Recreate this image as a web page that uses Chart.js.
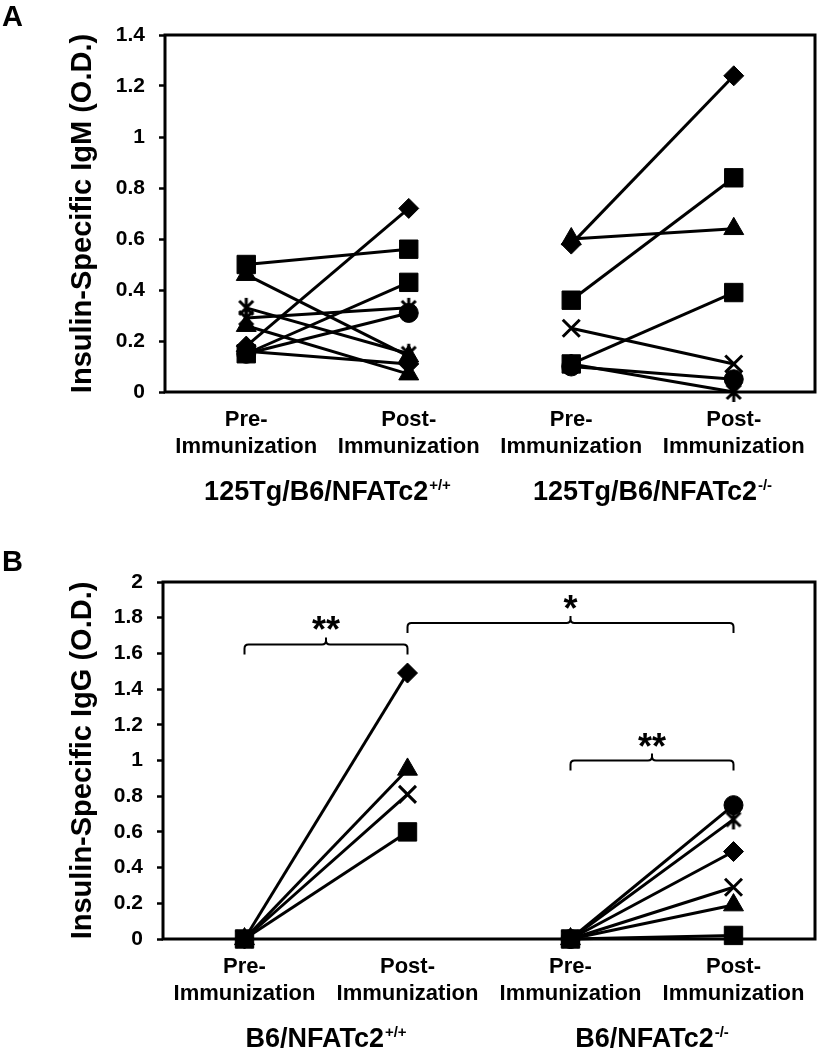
<!DOCTYPE html>
<html><head><meta charset="utf-8">
<script src="https://cdn.jsdelivr.net/npm/chart.js@4/dist/chart.umd.min.js"></script>
<style>
html,body{margin:0;padding:0;background:#fff;}
#wrap{position:relative;width:830px;height:1050px;overflow:hidden;}
canvas{position:absolute;left:0;}
#cA{top:0}
#cB{top:525px}
.panel{position:absolute;left:2px;font:bold 29px 'Liberation Sans',Arial,sans-serif;line-height:29px;color:#000}
</style></head><body>
<div id="wrap">
<canvas id="cA" width="830" height="525"></canvas>
<canvas id="cB" width="830" height="525"></canvas>
<div class="panel" style="top:2px">A</div>
<div class="panel" style="top:547px">B</div>
</div>
<script>
// ---------- data ----------
const categories = [["Pre-","Immunization"],["Post-","Immunization"],["Pre-","Immunization"],["Post-","Immunization"]];

// Panel A : insulin-specific IgM
const igmWtMarkers = ["square","triangle","star","star","triangle","diamond","square","circle","diamond"];
const igmWtPre     = [0.50, 0.46, 0.33, 0.29, 0.26, 0.18, 0.15, 0.15, 0.16];
const igmWtPost    = [0.56, 0.14, 0.15, 0.33, 0.07, 0.72, 0.43, 0.31, 0.11];
const igmKoMarkers = ["diamond","triangle","square","cross","square","circle","star"];
const igmKoPre     = [0.58, 0.60, 0.36, 0.25, 0.11, 0.10, 0.11];
const igmKoPost    = [1.24, 0.64, 0.84, 0.11, 0.39, 0.05, 0.00];

// Panel B : insulin-specific IgG
const iggWtMarkers = ["square","diamond","triangle","cross"];
const iggWtPre     = [0, 0, 0, 0];
const iggWtPost    = [0.60, 1.49, 0.95, 0.81];
const iggKoMarkers = ["square","circle","star","diamond","cross","triangle"];
const iggKoPre     = [0, 0, 0, 0, 0, 0];
const iggKoPost    = [0.02, 0.75, 0.67, 0.49, 0.29, 0.19];

const groupNamesA = ["125Tg/B6/NFATc2","125Tg/B6/NFATc2"];
const groupSupA   = ["+/+","-/-"];
const groupNamesB = ["B6/NFATc2","B6/NFATc2"];
const groupSupB   = ["+/+","-/-"];

const yTitleA = "Insulin-Specific IgM (O.D.)";
const yTitleB = "Insulin-Specific IgG (O.D.)";
const yMaxA = 1.4, yMaxB = 2, yStep = 0.2;

// significance brackets (panel B)
const bracketFrom  = [0, 1, 2];
const bracketTo    = [1, 3, 3];
const bracketLevel = [1.65, 1.77, 1.0];
const bracketText  = ["**", "*", "**"];

// ---------- styling ----------
const FONT = "'Liberation Sans', Arial, Helvetica, sans-serif";

function makeStar() {
  const c = document.createElement('canvas');
  c.width = 22; c.height = 22;
  const g = c.getContext('2d');
  g.strokeStyle = '#000'; g.lineWidth = 3; g.lineCap = 'butt';
  g.beginPath();
  g.moveTo(4,4); g.lineTo(18,18);
  g.moveTo(18,4); g.lineTo(4,18);
  g.moveTo(11,1); g.lineTo(11,21);
  g.stroke();
  return c;
}
const starImg = makeStar();
const STYLE = {
  square:   {pointStyle:'rect',     radius:13,   bw:1},
  diamond:  {pointStyle:'rectRot',  radius:10,   bw:1},
  triangle: {pointStyle:'triangle', radius:11.5, bw:1},
  circle:   {pointStyle:'circle',   radius:9.5,  bw:1},
  cross:    {pointStyle:'crossRot', radius:12,   bw:3},
  star:     {pointStyle:starImg,    radius:11,   bw:1}
};

function buildDatasets(pre, post, markers, group) {
  return pre.map((p, i) => {
    const s = STYLE[markers[i]];
    const data = group === 0 ? [p, post[i], null, null] : [null, null, p, post[i]];
    return {
      data,
      borderColor:'#000', borderWidth:3,
      pointStyle:s.pointStyle, pointRadius:s.radius,
      pointBackgroundColor:'#000', pointBorderColor:'#000', pointBorderWidth:s.bw,
      fill:false, tension:0, spanGaps:false, clip:false
    };
  });
}

const framePlugin = {
  id:'frame',
  beforeDatasetsDraw(chart) {
    const {ctx, chartArea:a} = chart;
    ctx.save();
    ctx.strokeStyle = '#000'; ctx.lineWidth = 3;
    ctx.strokeRect(a.left, a.top, a.right - a.left, a.bottom - a.top);
    ctx.restore();
  }
};

const groupLabelPlugin = {
  id:'groupLabels',
  afterDraw(chart, args, opts) {
    if (!opts.names) return;
    const {ctx} = chart; const xs = chart.scales.x;
    const y = chart.chartArea.bottom + opts.offset;
    opts.names.forEach((b, i) => {
      const cx = (xs.getPixelForValue(2*i) + xs.getPixelForValue(2*i+1)) / 2;
      ctx.save();
      ctx.fillStyle = '#000'; ctx.textAlign = 'left'; ctx.textBaseline = 'alphabetic';
      ctx.font = `bold ${opts.size}px ${FONT}`;
      const wb = ctx.measureText(b).width;
      ctx.font = `bold ${opts.supSize}px ${FONT}`;
      const ws = ctx.measureText(opts.sup[i]).width;
      const start = cx - (wb + ws + 1) / 2;
      ctx.font = `bold ${opts.size}px ${FONT}`;
      ctx.fillText(b, start, y);
      ctx.font = `bold ${opts.supSize}px ${FONT}`;
      ctx.fillText(opts.sup[i], start + wb + 1, y - opts.supRaise);
      ctx.restore();
    });
  }
};

const bracketPlugin = {
  id:'brackets',
  afterDatasetsDraw(chart, args, opts) {
    if (!opts.from) return;
    const {ctx} = chart; const xs = chart.scales.x, ys = chart.scales.y;
    ctx.save();
    ctx.strokeStyle = '#000'; ctx.fillStyle = '#000'; ctx.lineWidth = 2;
    opts.from.forEach((f, i) => {
      const x1 = xs.getPixelForValue(f), x2 = xs.getPixelForValue(opts.to[i]);
      const y = ys.getPixelForValue(opts.level[i]);
      const xm = (x1 + x2) / 2, drop = 10, rise = 7, r = 4;
      ctx.beginPath();
      ctx.moveTo(x1, y + drop);
      ctx.lineTo(x1, y + r);
      ctx.quadraticCurveTo(x1, y, x1 + r, y);
      ctx.lineTo(xm - r, y);
      ctx.quadraticCurveTo(xm, y, xm, y - r);
      ctx.lineTo(xm, y - rise);
      ctx.moveTo(xm, y - r);
      ctx.quadraticCurveTo(xm, y, xm + r, y);
      ctx.lineTo(x2 - r, y);
      ctx.quadraticCurveTo(x2, y, x2, y + r);
      ctx.lineTo(x2, y + drop);
      ctx.stroke();
      ctx.font = `bold 36px ${FONT}`;
      ctx.textAlign = 'center'; ctx.textBaseline = 'alphabetic';
      ctx.fillText(opts.text[i], xm, y - 2);
    });
    ctx.restore();
  }
};

function makeChart(id, datasets, yMax, yTitle, padTop, axisLeft, xAxisHeight, names, sup, brackets) {
  return new Chart(document.getElementById(id), {
    type:'line',
    data:{ labels:categories, datasets },
    plugins:[framePlugin, groupLabelPlugin, bracketPlugin],
    options:{
      responsive:false, animation:false, devicePixelRatio:1,
      layout:{ padding:{ top:padTop, right:2, left:0, bottom:0 } },
      plugins:{
        legend:{display:false}, tooltip:{enabled:false},
        groupLabels:{ names, sup, offset:108, size:27, supSize:15, supRaise:10 },
        brackets: brackets || {}
      },
      scales:{
        x:{
          type:'category', offset:true,
          grid:{display:false, drawTicks:false},
          border:{display:false},
          ticks:{ color:'#000', padding:14, maxRotation:0, autoSkip:false,
                  font:{family:FONT, size:22, weight:'bold', lineHeight:1.23} },
          afterFit(s){ s.height = xAxisHeight; }
        },
        y:{
          min:0, max:yMax,
          grid:{display:true, drawOnChartArea:false, drawTicks:true, tickLength:6, tickColor:'#000', tickWidth:2.5},
          border:{display:false},
          ticks:{ stepSize:yStep, color:'#000', padding:14,
                  font:{family:FONT, size:21, weight:'bold'},
                  callback:(v) => String(Math.round(v * 10) / 10) },
          title:{ display:true, text:yTitle, color:'#000',
                  font:{family:FONT, size:29, weight:'bold', lineHeight:1.2},
                  padding:{top:66, bottom:0} },
          afterFit(s){ s.width = axisLeft; }
        }
      }
    }
  });
}

const dsA = buildDatasets(igmWtPre, igmWtPost, igmWtMarkers, 0)
  .concat(buildDatasets(igmKoPre, igmKoPost, igmKoMarkers, 1));
const dsB = buildDatasets(iggWtPre, iggWtPost, iggWtMarkers, 0)
  .concat(buildDatasets(iggKoPre, iggKoPost, iggKoMarkers, 1));

makeChart('cA', dsA, yMaxA, yTitleA, 35, 165, 133, groupNamesA, groupSupA, null);
makeChart('cB', dsB, yMaxB, yTitleB, 57, 163, 111, groupNamesB, groupSupB,
  { from:bracketFrom, to:bracketTo, level:bracketLevel, text:bracketText });
</script>
</body></html>
